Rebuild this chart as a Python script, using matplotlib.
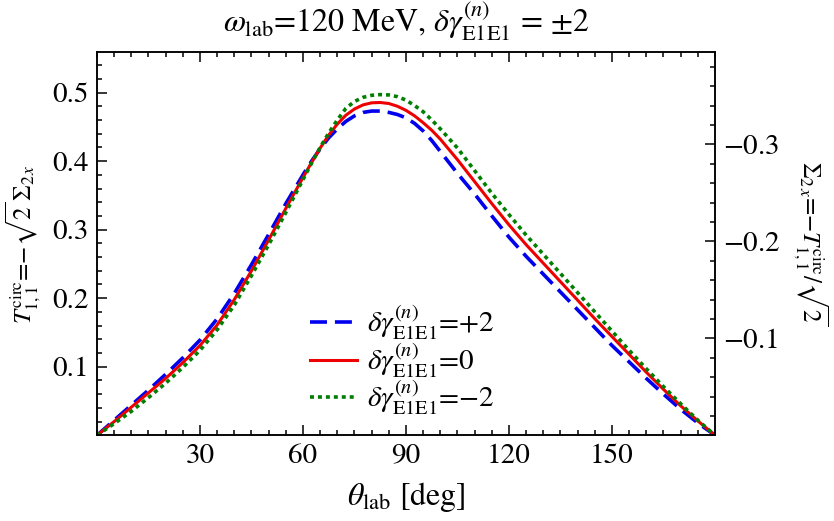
import numpy as np
import matplotlib
matplotlib.use('Agg')
import matplotlib.pyplot as plt
from matplotlib.ticker import FixedLocator, MultipleLocator

plt.rcParams['font.family'] = 'STIXGeneral'
plt.rcParams['mathtext.fontset'] = 'stix'

# lab angle [deg]
theta = [0, 5, 10, 15, 20, 25, 30, 35, 40, 45, 50, 55, 60, 62.5, 65, 67.5, 70, 72.5, 75,
         77.5, 80, 82.5, 85, 87.5, 90, 92.5, 95, 97.5, 100, 105, 110, 115, 120, 125, 130,
         135, 140, 145, 150, 155, 160, 165, 170, 175, 180]

# T^circ_{1,1} for delta gamma_E1E1 = +2, 0, -2
t_plus2 = [0, 0.022, 0.044, 0.066, 0.089, 0.113, 0.139, 0.170, 0.207, 0.249, 0.293, 0.338,
           0.380, 0.400, 0.418, 0.434, 0.447, 0.458, 0.466, 0.471, 0.473, 0.473, 0.471,
           0.468, 0.463, 0.455, 0.444, 0.430, 0.414, 0.382, 0.352, 0.320, 0.289, 0.261,
           0.235, 0.209, 0.183, 0.157, 0.131, 0.107, 0.083, 0.060, 0.038, 0.018, 0]
t_zero = [0, 0.020, 0.041, 0.062, 0.083, 0.106, 0.131, 0.161, 0.198, 0.240, 0.285, 0.331,
          0.376, 0.398, 0.419, 0.438, 0.454, 0.467, 0.476, 0.482, 0.485, 0.4855, 0.484,
          0.480, 0.474, 0.466, 0.456, 0.445, 0.432, 0.402, 0.370, 0.338, 0.307, 0.278,
          0.251, 0.224, 0.197, 0.170, 0.144, 0.118, 0.092, 0.067, 0.043, 0.021, 0]
t_minus2 = [0, 0.017, 0.035, 0.055, 0.076, 0.099, 0.124, 0.154, 0.190, 0.233, 0.278, 0.325,
            0.373, 0.397, 0.420, 0.441, 0.460, 0.477, 0.487, 0.493, 0.496, 0.497, 0.4965,
            0.494, 0.489, 0.481, 0.472, 0.460, 0.447, 0.419, 0.386, 0.353, 0.322, 0.292,
            0.264, 0.236, 0.208, 0.180, 0.152, 0.124, 0.097, 0.071, 0.046, 0.022, 0]

x_ticks = [30, 60, 90, 120, 150]
y_ticks = [0.1, 0.2, 0.3, 0.4, 0.5]
sigma_ticks = [-0.1, -0.2, -0.3]

fig = plt.figure(figsize=(8.34, 5.21), dpi=100)
ax = fig.add_axes([0.1163, 0.1645, 0.741, 0.7355])

ax.plot(theta, t_plus2, color='#0000ee', lw=2.6, dashes=(4.7, 2.2),
        label=r'$\delta\gamma^{(n)}_{\rm E1E1}$=+2')
ax.plot(theta, t_zero, color='#ee0000', lw=2.2,
        label=r'$\delta\gamma^{(n)}_{\rm E1E1}$=0')
ax.plot(theta, t_minus2, color='#007f00', lw=2.6, dashes=(1.1, 1.1),
        label=r'$\delta\gamma^{(n)}_{\rm E1E1}$=$-$2')

ax.set_xlim(0, 180)
ax.set_ylim(0, 0.559)
ax.xaxis.set_major_locator(FixedLocator(x_ticks))
ax.xaxis.set_minor_locator(MultipleLocator(5))
ax.yaxis.set_major_locator(FixedLocator(y_ticks))
ax.yaxis.set_minor_locator(MultipleLocator(0.02))
ax.tick_params(which='both', direction='in', top=True, right=False, labelsize=21, width=1.1)
ax.tick_params(which='major', length=7, pad=6)
ax.tick_params(which='minor', length=3.5)
for s in ax.spines.values():
    s.set_linewidth(1.1)

ax2 = ax.twinx()
ax2.set_ylim(0, -0.559 / np.sqrt(2))
ax2.yaxis.set_major_locator(FixedLocator(sigma_ticks))
ax2.yaxis.set_minor_locator(MultipleLocator(0.02))
ax2.yaxis.set_major_formatter(plt.FuncFormatter(lambda v, p: '$-$%.1f' % abs(v)))
ax2.tick_params(which='both', direction='in', labelsize=21, width=1.1)
ax2.tick_params(which='major', length=7, pad=6)
ax2.tick_params(which='minor', length=3.5)
for s in ax2.spines.values():
    s.set_linewidth(1.1)

ax.set_xlabel(r'$\theta_{\rm lab}$ [deg]', fontsize=23, labelpad=8)
ax.set_ylabel(r'$T^{\rm circ}_{1,1}$=$-\sqrt{2}\,\Sigma_{2\,x}$', fontsize=18)
ax.yaxis.set_label_coords(-0.087, 0.5)
ax2.set_ylabel(r'$\Sigma_{2\,x}$=$-T^{\rm circ}_{1,1}/\sqrt{2}$', fontsize=18, rotation=-90)
ax2.yaxis.label.set_verticalalignment('bottom')
ax2.yaxis.set_label_coords(1.123, 0.5)
ax.set_title(r'$\omega_{\rm lab}$=120 MeV, $\delta\gamma^{(n)}_{\rm E1E1}$ = $\pm$2', fontsize=23, pad=14)

ax.legend(loc='center', bbox_to_anchor=(0.494, 0.196), frameon=False, fontsize=21,
          handlelength=1.6, handletextpad=0.35, labelspacing=-0.05, borderpad=0.2)

fig.savefig('out.png', dpi=100)
